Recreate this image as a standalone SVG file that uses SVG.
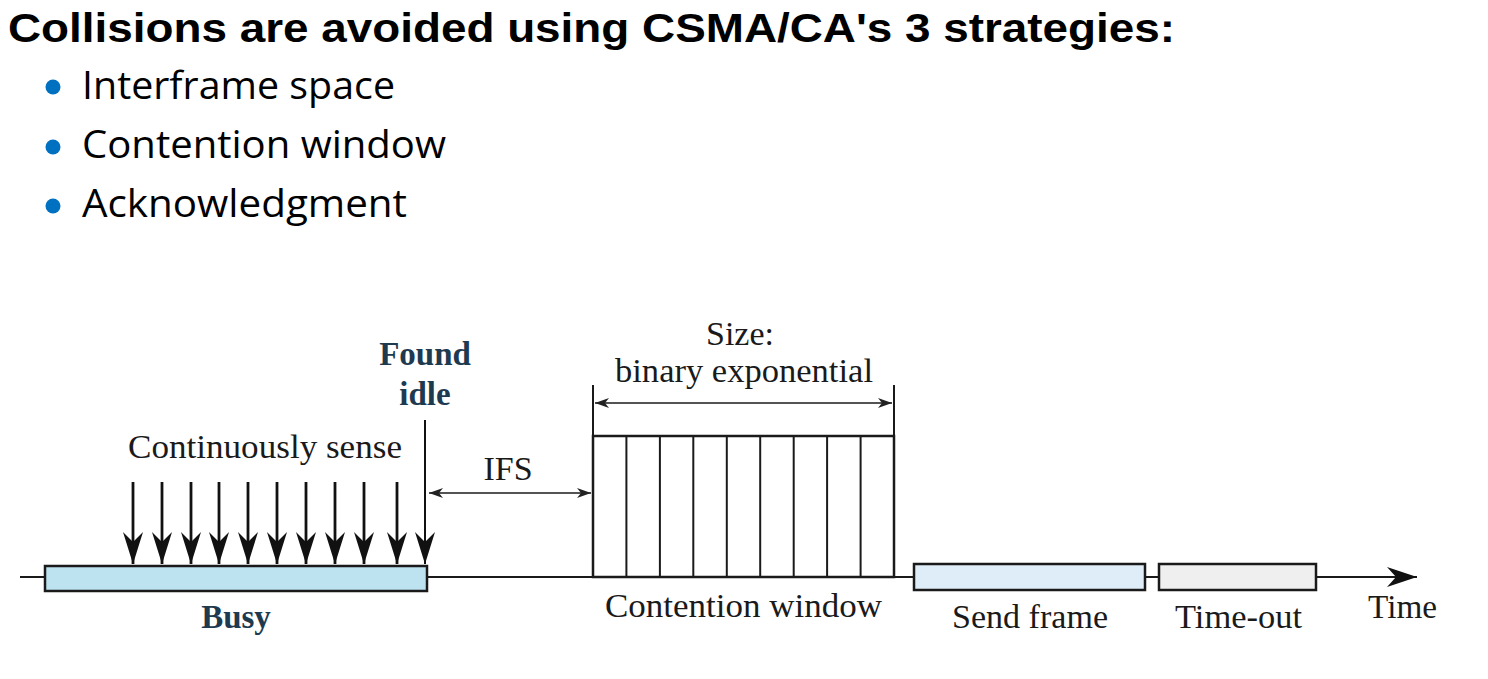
<svg xmlns="http://www.w3.org/2000/svg" width="1488" height="679" viewBox="0 0 1488 679">
<style>
.title{font-family:"Liberation Sans",Arial,sans-serif;font-weight:bold;font-size:41px;fill:#000}
.bul{font-family:"Open Sans","Noto Sans",sans-serif;font-size:39px;fill:#000}
.ser{font-family:"Liberation Serif","Times New Roman",serif;font-size:34px;fill:#1a1a1a}
.serb{font-family:"Liberation Serif","Times New Roman",serif;font-size:33px;font-weight:bold;fill:#1e3a50}
.ln{stroke:#1a1a1a;fill:none}
.box{stroke:#1a1a1a;stroke-width:2.5}
</style>
<defs>
<marker id="big" markerUnits="userSpaceOnUse" viewBox="0 0 32 20" refX="32" refY="10" markerWidth="32" markerHeight="20" orient="auto">
<path d="M0,0 L10,10 L0,20 L32,10 Z" fill="#111"/>
</marker>
<marker id="small" markerUnits="userSpaceOnUse" viewBox="0 0 14 10" refX="14" refY="5" markerWidth="14" markerHeight="10" orient="auto-start-reverse">
<path d="M0,0 L14,5 L0,10 L4,5 Z" fill="#222"/>
</marker>
<marker id="time" markerUnits="userSpaceOnUse" viewBox="0 0 30 20" refX="30" refY="10" markerWidth="30" markerHeight="20" orient="auto">
<path d="M0,0 L30,10 L0,20 L9,10 Z" fill="#111"/>
</marker>
</defs>

<g id="title">
<text class="title" x="8" y="42" textLength="1167" lengthAdjust="spacingAndGlyphs">Collisions  are avoided using CSMA/CA's 3 strategies:</text>
</g>
<g id="bullets">
<circle cx="53" cy="87" r="7.5" fill="#0070c0"/>
<text class="bul" x="82" y="99" textLength="313" lengthAdjust="spacingAndGlyphs">Interframe space</text>
<circle cx="53" cy="147" r="7.5" fill="#0070c0"/>
<text class="bul" x="82" y="158" textLength="364" lengthAdjust="spacingAndGlyphs">Contention window</text>
<circle cx="53" cy="206" r="7.5" fill="#0070c0"/>
<text class="bul" x="82" y="217" textLength="325" lengthAdjust="spacingAndGlyphs">Acknowledgment</text>
</g>

<g id="connectors">
<line class="ln" x1="20" y1="577" x2="1417" y2="577" stroke-width="2" marker-end="url(#time)"/>
<g stroke="#111" stroke-width="2.8" marker-end="url(#big)">
<line x1="133" y1="482" x2="133" y2="564"/>
<line x1="162" y1="482" x2="162" y2="564"/>
<line x1="191" y1="482" x2="191" y2="564"/>
<line x1="219" y1="482" x2="219" y2="564"/>
<line x1="248" y1="482" x2="248" y2="564"/>
<line x1="277" y1="482" x2="277" y2="564"/>
<line x1="306" y1="482" x2="306" y2="564"/>
<line x1="335" y1="482" x2="335" y2="564"/>
<line x1="364" y1="482" x2="364" y2="564"/>
<line x1="397" y1="482" x2="397" y2="564"/>
<line x1="425" y1="420" x2="425" y2="564" stroke-width="2"/>
</g>
<line class="ln" x1="429" y1="493" x2="591" y2="493" stroke-width="1.5" marker-start="url(#small)" marker-end="url(#small)"/>
<line class="ln" x1="595" y1="403" x2="892" y2="403" stroke-width="1.5" marker-start="url(#small)" marker-end="url(#small)"/>
<line class="ln" x1="593" y1="385" x2="593" y2="436" stroke-width="2"/>
<line class="ln" x1="894" y1="385" x2="894" y2="436" stroke-width="2"/>
</g>

<g id="busy">
<rect class="box" x="45" y="566" width="382" height="25" fill="#bde3f1"/>
<text class="serb" x="236" y="628" text-anchor="middle">Busy</text>
</g>
<g id="found-idle">
<text class="serb" x="425" y="365" text-anchor="middle">Found</text>
<text class="serb" x="425" y="405" text-anchor="middle">idle</text>
</g>
<g id="continuously-sense">
<text class="ser" x="128" y="458" textLength="274" lengthAdjust="spacingAndGlyphs">Continuously sense</text>
</g>
<g id="ifs">
<text class="ser" x="508" y="480" text-anchor="middle">IFS</text>
</g>
<g id="contention-window">
<rect x="593" y="436" width="301" height="141" fill="#fff" stroke="#1a1a1a" stroke-width="2.5"/>
<g stroke="#1a1a1a" stroke-width="2">
<line x1="626.4" y1="436" x2="626.4" y2="577"/>
<line x1="659.9" y1="436" x2="659.9" y2="577"/>
<line x1="693.3" y1="436" x2="693.3" y2="577"/>
<line x1="726.8" y1="436" x2="726.8" y2="577"/>
<line x1="760.2" y1="436" x2="760.2" y2="577"/>
<line x1="793.7" y1="436" x2="793.7" y2="577"/>
<line x1="827.1" y1="436" x2="827.1" y2="577"/>
<line x1="860.6" y1="436" x2="860.6" y2="577"/>
</g>
<text class="ser" x="740" y="345" text-anchor="middle">Size:</text>
<text class="ser" x="615" y="382" textLength="258" lengthAdjust="spacingAndGlyphs">binary exponential</text>
<text class="ser" x="605" y="617" textLength="277" lengthAdjust="spacingAndGlyphs">Contention window</text>
</g>
<g id="send-frame">
<rect class="box" x="914" y="564" width="231" height="26" fill="#deedf8"/>
<text class="ser" x="952" y="628" textLength="156" lengthAdjust="spacingAndGlyphs">Send frame</text>
</g>
<g id="time-out">
<rect class="box" x="1159" y="564" width="157" height="26" fill="#efefef"/>
<text class="ser" x="1175" y="628" textLength="127" lengthAdjust="spacingAndGlyphs">Time-out</text>
</g>
<g id="time-label">
<text class="ser" x="1368" y="618" textLength="69" lengthAdjust="spacingAndGlyphs">Time</text>
</g>
</svg>
